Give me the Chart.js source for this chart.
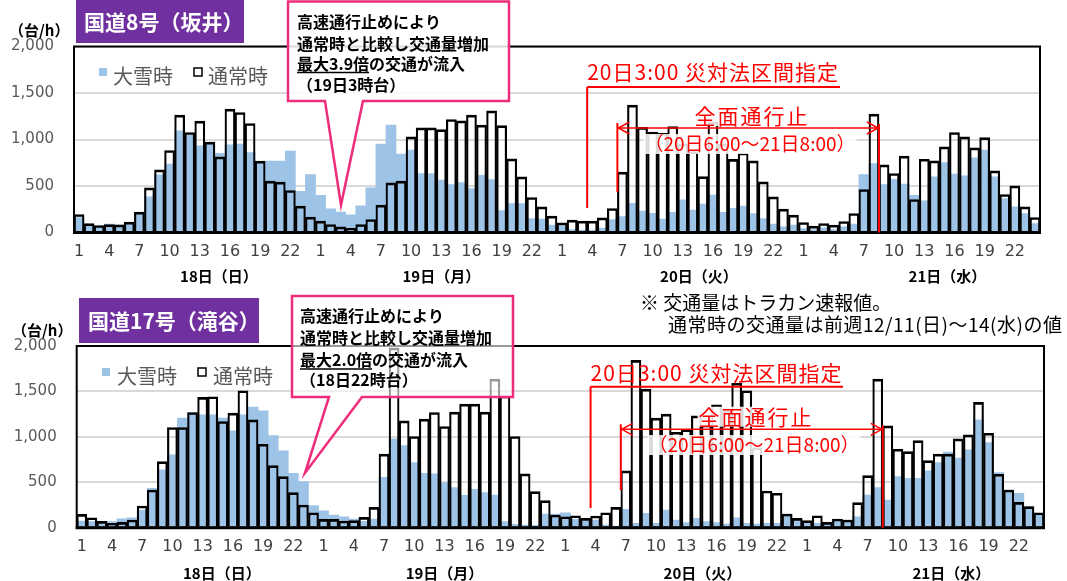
<!DOCTYPE html>
<html lang="ja">
<head>
<meta charset="utf-8">
<script src="https://cdn.jsdelivr.net/npm/chart.js@4.4.0/dist/chart.umd.min.js"></script>
<style>
body { margin: 0; background: #fff; }
#wrap { position: relative; width: 1067px; height: 581px; }
canvas { position: absolute; left: 0; }
</style>
</head>
<body>
<div id="wrap">
<canvas id="c1" width="1067" height="290" style="top:0px"></canvas>
<canvas id="c2" width="1067" height="291" style="top:290px"></canvas>
</div>
<script>
// categories
const hours = [1, 2, 3, 4, 5, 6, 7, 8, 9, 10, 11, 12, 13, 14, 15, 16, 17, 18, 19, 20, 21, 22, 23, 24];
const days = ['18日（日）', '19日（月）', '20日（火）', '21日（水）'];
const seriesNames = ['大雪時', '通常時'];

// 国道8号（坂井） 台/h
const sakaiSnow = [
    161, 80, 72, 90, 80, 100, 210, 383, 620, 735, 1093, 1047, 932, 965, 850, 943, 950, 860, 760, 767, 767, 875, 444, 624,
    401, 254, 219, 190, 287, 480, 950, 1154, 842, 885, 634, 634, 563, 516, 538, 473, 616, 570, 235, 312, 312, 150, 143, 79,
    72, 32, 25, 25, 47, 140, 170, 314, 231, 206, 145, 216, 350, 242, 306, 403, 216, 260, 285, 204, 150, 90, 61, 79,
    43, 32, 50, 32, 61, 90, 624, 742, 516, 573, 520, 401, 340, 598, 753, 627, 609, 803, 885, 598, 366, 276, 204, 97
];
const sakaiNormal = [
    194, 95, 75, 85, 82, 111, 219, 480, 674, 882, 1262, 1075, 1197, 971, 814, 1326, 1290, 1172, 767, 552, 541, 452, 283, 165,
    122, 86, 61, 45, 86, 140, 294, 534, 552, 1029, 1125, 1125, 1107, 1215, 1200, 1262, 1154, 1308, 1150, 792, 598, 376, 276, 176,
    104, 133, 122, 122, 158, 258, 650, 1370, 1130, 1080, 1066, 1138, 950, 870, 600, 1190, 950, 787, 855, 771, 545, 383, 251, 186,
    108, 68, 97, 79, 118, 204, 462, 1272, 728, 634, 821, 355, 788, 771, 921, 1075, 1029, 910, 1021, 663, 409, 502, 276, 161
];

// 国道17号（滝谷） 台/h
const takitaniSnow = [
    74, 66, 65, 66, 99, 110, 195, 434, 636, 801, 1206, 1268, 1242, 1242, 1206, 1066, 1242, 1327, 1287, 1015, 845, 599, 507, 243,
    187, 140, 121, 95, 70, 95, 555, 978, 904, 717, 599, 592, 496, 441, 357, 423, 386, 360, 66, 37, 29, 26, 151, 151,
    165, 92, 74, 85, 29, 18, 202, 48, 158, 48, 195, 85, 55, 103, 66, 55, 40, 110, 48, 40, 48, 48, 151, 92,
    48, 48, 37, 92, 85, 121, 360, 441, 305, 562, 544, 544, 625, 717, 831, 765, 857, 1187, 937, 607, 415, 379, 232, 140
];
const takitaniNormal = [
    147, 110, 70, 48, 59, 85, 239, 415, 728, 1103, 1103, 1268, 1434, 1441, 1169, 1261, 1507, 1187, 919, 684, 562, 386, 250, 165,
    92, 92, 74, 77, 114, 224, 809, 1980, 1176, 1004, 1195, 1268, 1114, 1272, 1360, 1360, 1272, 1636, 1450, 1004, 592, 397, 298, 140,
    121, 132, 103, 129, 165, 224, 625, 1842, 1526, 1206, 1250, 1051, 1080, 1230, 1130, 1353, 1290, 1590, 1507, 880, 404, 379, 151, 103,
    77, 132, 59, 96, 85, 276, 573, 1636, 1121, 864, 838, 959, 739, 809, 809, 978, 1022, 1379, 1040, 588, 415, 279, 232, 165
];

// events, as [day index, hour]
const designation = [2, 3];   // 20日 3:00 災対法区間指定
const closedFrom = [2, 6];    // 20日 6:00
const closedTo = [3, 8];      // 21日 8:00
const dayLabelAt = [13.9, 12.0, 13.6, 14.3];

let hourLabels = [];
days.forEach(() => hours.forEach(h => hourLabels.push(String(h))));

const jp = '"Noto Sans CJK JP", "Noto Sans", sans-serif';
const red = '#FF0000';
const pink = '#EE2C7C';
const blue = '#9DC3E6';

function seg(ctx, x1, y1, x2, y2) {
    ctx.beginPath();
    ctx.moveTo(x1, y1);
    ctx.lineTo(x2, y2);
    ctx.stroke();
}

// white patch behind a centred text
function patch(ctx, text, x, y, h) {
    const tw = ctx.measureText(text).width;
    ctx.save();
    ctx.fillStyle = 'rgba(255,255,255,0.85)';
    ctx.fillRect(x - tw / 2 - 1, y - h / 2, tw + 2, h);
    ctx.restore();
}

const decor = {
    id: 'decor',
    afterDatasetsDraw(chart, args, o) {
        const ctx = chart.ctx;
        const a = chart.chartArea;
        const w = (a.right - a.left) / hourLabels.length;
        const xb = (e) => a.left + (e[0] * 24 + e[1]) * w;

        ctx.save();
        ctx.strokeStyle = '#000';
        ctx.lineWidth = 2;
        ctx.strokeRect(a.left, a.top, a.right - a.left, a.bottom - a.top);
        ctx.lineWidth = 3;
        seg(ctx, a.left - 1, a.bottom, a.right + 1, a.bottom);

        const xd = xb(designation);
        const xs = xb(closedFrom);
        const xe = xb(closedTo);

        // text patches first, lines over them
        ctx.textBaseline = 'middle';
        ctx.textAlign = 'center';
        ctx.letterSpacing = '2px';
        ctx.font = '21px ' + jp;
        patch(ctx, '全面通行止', o.closeTextX, o.closeTextY, 20);
        ctx.letterSpacing = '0px';
        ctx.font = '19px ' + jp;
        patch(ctx, '（20日6:00～21日8:00）', o.closeTextX - 2, o.rangeTextY, 20);

        ctx.strokeStyle = red;
        ctx.fillStyle = red;
        ctx.lineWidth = 2;
        seg(ctx, xd, o.desigLine, o.desigEnd, o.desigLine);
        seg(ctx, xd, o.desigLine, xd, o.desigBottom);
        seg(ctx, xs, o.arrowY - 5, xs, o.closeLeftBottom);
        seg(ctx, xe, o.arrowY - 4, xe, a.bottom);
        ctx.lineWidth = 1.5;
        seg(ctx, xs, o.arrowY, xe, o.arrowY);
        ctx.beginPath();
        ctx.moveTo(xs + 12, o.arrowY - 6);
        ctx.lineTo(xs + 1, o.arrowY);
        ctx.lineTo(xs + 12, o.arrowY + 6);
        ctx.moveTo(xe - 12, o.arrowY - 6);
        ctx.lineTo(xe - 1, o.arrowY);
        ctx.lineTo(xe - 12, o.arrowY + 6);
        ctx.stroke();

        ctx.textAlign = 'left';
        ctx.letterSpacing = '1px';
        ctx.font = '21px ' + jp;
        ctx.fillText('20日3:00 災対法区間指定', xd, o.desigY);
        ctx.textAlign = 'center';
        ctx.letterSpacing = '2px';
        ctx.fillText('全面通行止', o.closeTextX, o.closeTextY);
        ctx.letterSpacing = '0px';
        ctx.font = '19px ' + jp;
        ctx.fillText('（20日6:00～21日8:00）', o.closeTextX - 2, o.rangeTextY);
        ctx.restore();
    },
    afterDraw(chart, args, o) {
        const ctx = chart.ctx;
        const a = chart.chartArea;
        const w = (a.right - a.left) / hourLabels.length;
        ctx.save();
        ctx.textBaseline = 'middle';

        // day labels
        ctx.fillStyle = '#000';
        ctx.textAlign = 'center';
        ctx.font = 'bold 15px ' + jp;
        days.forEach((d, i) => {
            ctx.fillText(d, a.left + (i * 24 + dayLabelAt[i] + 0.5) * w, o.dayY);
        });

        // unit
        ctx.textAlign = 'left';
        ctx.font = 'bold 15px ' + jp;
        ctx.fillText('（台/h）', o.unitX, o.unitY);

        // title
        ctx.fillStyle = '#7030A0';
        ctx.fillRect(o.titleBox[0], o.titleBox[1], o.titleBox[2], o.titleBox[3]);
        ctx.fillStyle = '#fff';
        ctx.font = 'bold 21px ' + jp;
        ctx.fillText(o.title, o.titleX, o.titleY);

        // legend
        const lx = o.legendX;
        ctx.fillStyle = blue;
        ctx.fillRect(lx[0], o.legendY - 6, 8, 8);
        ctx.fillStyle = '#fff';
        ctx.fillRect(lx[2], o.legendY - 6, 8, 8);
        ctx.strokeStyle = '#000';
        ctx.lineWidth = 1.5;
        ctx.strokeRect(lx[2], o.legendY - 6, 8, 8);
        ctx.fillStyle = '#595959';
        ctx.font = '20px ' + jp;
        ctx.fillText(seriesNames[0], lx[1], o.legendY + 2);
        ctx.fillText(seriesNames[1], lx[3], o.legendY + 2);

        // note
        if (o.note) {
            ctx.fillStyle = '#000';
            ctx.font = '19px ' + jp;
            ctx.fillText('※ 交通量はトラカン速報値。', 640, 13);
            ctx.letterSpacing = '0.5px';
            ctx.fillText('通常時の交通量は前週12/11(日)～14(水)の値', 668, 35);
            ctx.letterSpacing = '0px';
        }

        // callout
        const c = o.box;
        ctx.beginPath();
        ctx.moveTo(c.l, c.t);
        ctx.lineTo(c.r, c.t);
        ctx.lineTo(c.r, c.b);
        ctx.lineTo(c.pr, c.b);
        ctx.lineTo(c.tx, c.ty);
        ctx.lineTo(c.pl, c.b);
        ctx.lineTo(c.l, c.b);
        ctx.closePath();
        ctx.fillStyle = 'rgba(255,255,255,' + c.alpha + ')';
        ctx.fill();
        ctx.strokeStyle = pink;
        ctx.lineWidth = 2.5;
        ctx.stroke();

        ctx.fillStyle = '#000';
        ctx.font = 'bold 16px ' + jp;
        o.lines.forEach((t, i) => ctx.fillText(t, o.textX, o.lineY[i]));
        const uw = ctx.measureText(o.under).width;
        ctx.strokeStyle = '#000';
        ctx.lineWidth = 1.5;
        seg(ctx, o.textX, o.lineY[2] + 9, o.textX + uw, o.lineY[2] + 9);
        ctx.restore();
    }
};

function makeChart(id, snow, normal, deco, sizes) {
    new Chart(document.getElementById(id), {
        type: 'bar',
        data: {
            labels: hourLabels,
            datasets: [
                {
                    label: seriesNames[1],
                    data: normal,
                    backgroundColor: 'rgba(0,0,0,0)',
                    borderColor: '#000',
                    borderWidth: { top: 2, left: 1.5, right: 1.5, bottom: 0 },
                    borderSkipped: 'start',
                    barPercentage: 1,
                    categoryPercentage: 1,
                    grouped: false,
                    order: 1
                },
                {
                    label: seriesNames[0],
                    data: snow,
                    backgroundColor: blue,
                    borderWidth: 0,
                    barPercentage: 1,
                    categoryPercentage: 1,
                    grouped: false,
                    order: 2
                }
            ]
        },
        options: {
            responsive: false,
            animation: false,
            layout: { padding: { top: sizes.top, right: sizes.right, left: 0, bottom: 0 } },
            plugins: {
                legend: { display: false },
                tooltip: { enabled: false },
                decor: deco
            },
            scales: {
                x: {
                    grid: { display: false, drawTicks: false },
                    border: { display: false },
                    ticks: {
                        autoSkip: false,
                        maxRotation: 0,
                        minRotation: 0,
                        padding: 10,
                        color: '#404040',
                        font: { family: 'DejaVu Sans', size: 16 },
                        callback: (v, i) => ((hours[i % 24] - 1) % 3 === 0 ? hourLabels[i] : '')
                    },
                    afterFit: (s) => { s.height = sizes.xh; }
                },
                y: {
                    min: 0,
                    max: 2000,
                    grid: { color: '#D9D9D9', lineWidth: 2, drawTicks: false },
                    border: { display: false },
                    ticks: {
                        stepSize: 500,
                        padding: 20,
                        color: '#595959',
                        font: { family: 'DejaVu Sans', size: 15 },
                        callback: (v) => v.toLocaleString('en-US')
                    },
                    afterFit: (s) => { s.width = sizes.yw; }
                }
            }
        },
        plugins: [decor]
    });
}

makeChart('c1', sakaiSnow, sakaiNormal, {
    title: '国道8号（坂井）', titleBox: [76, 0, 168, 43], titleX: 84, titleY: 22,
    unitX: 9, unitY: 30,
    legendY: 74, legendX: [99, 113, 194, 208],
    dayY: 276,
    desigY: 72, desigLine: 87, desigEnd: 840, desigBottom: 208,
    arrowY: 128, closeLeftBottom: 192, closeTextX: 752, closeTextY: 116, rangeTextY: 144,
    box: { l: 288, t: 1.5, r: 509, b: 101, pl: 325, pr: 363, tx: 341, ty: 205, alpha: 0.85 },
    lines: ['高速通行止めにより', '通常時と比較し交通量増加', '最大3.9倍の交通が流入', '（19日3時台）'],
    under: '最大3.9倍', textX: 297, lineY: [21.5, 43.5, 63.5, 85],
    note: false
}, { top: 46.5, right: 27, xh: 57.5, yw: 74 });

makeChart('c2', takitaniSnow, takitaniNormal, {
    title: '国道17号（滝谷）', titleBox: [79, 8, 180, 45], titleX: 88, titleY: 31,
    unitX: 12, unitY: 40,
    legendY: 84, legendX: [102, 117, 198, 213],
    dayY: 283,
    desigY: 83, desigLine: 96.7, desigEnd: 843, desigBottom: 218,
    arrowY: 139.3, closeLeftBottom: 200, closeTextX: 756, closeTextY: 126.7, rangeTextY: 155,
    box: { l: 292, t: 6, r: 513, b: 107, pl: 329, pr: 362, tx: 305, ty: 183, alpha: 0.6 },
    lines: ['高速通行止めにより', '通常時と比較し交通量増加', '最大2.0倍の交通が流入', '（18日22時台）'],
    under: '最大2.0倍', textX: 300, lineY: [25.5, 47.5, 70, 90],
    note: true
}, { top: 56, right: 23, xh: 53.3, yw: 76.7 });
</script>
</body>
</html>
